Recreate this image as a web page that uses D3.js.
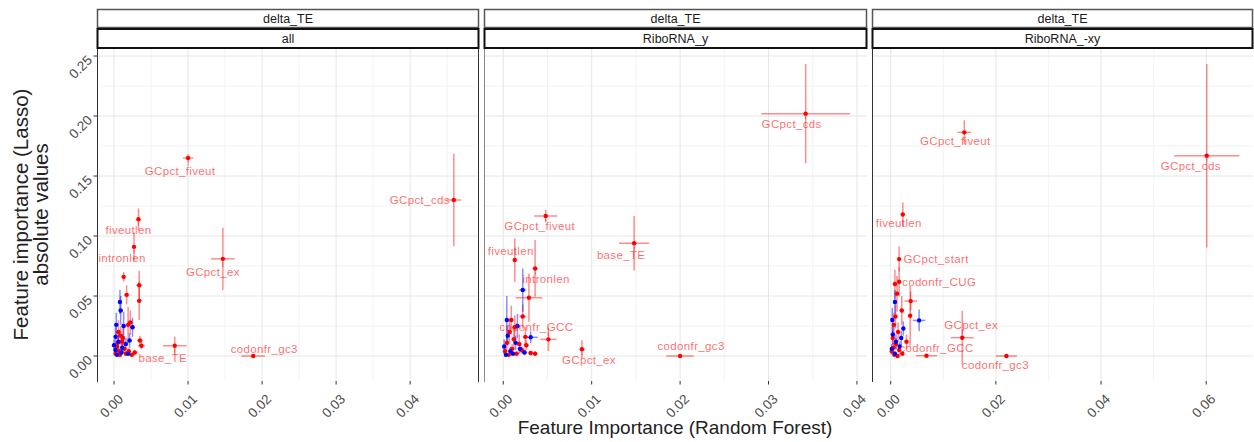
<!DOCTYPE html>
<html>
<head>
<meta charset="utf-8">
<script src="https://cdn.jsdelivr.net/npm/d3@7"></script>
<style>
body { margin: 0; background: #fff; }
text { font-family: "Liberation Sans", Arial, sans-serif; }
</style>
</head>
<body>
<svg id="chart" width="1254" height="442"></svg>
<script>
// facet strips
var outcome = "delta_TE";
var subsets = ["all", "RiboRNA_y", "RiboRNA_-xy"];

// axis ticks
var yTicks = [0, 0.05, 0.10, 0.15, 0.20, 0.25];
var xTicksAll = [0, 0.01, 0.02, 0.03, 0.04];
var xTicksRiboY = [0, 0.01, 0.02, 0.03, 0.04];
var xTicksRiboXY = [0, 0.02, 0.04, 0.06];

// [feature, rf importance, rf sd, |lasso coef|, lasso sd, sign]
var pointsAll = [
    ["", 0.0013, 0.0002, 0.066, 0.004, "pos"],
    ["", 0.0017, 0.0003, 0.051, 0.008, "pos"],
    ["", 0.0034, 0.0004, 0.059, 0.012, "pos"],
    ["", 0.0034, 0.0003, 0.046, 0.016, "pos"],
    ["", 0.0022, 0.0004, 0.028, 0.010, "pos"],
    ["", 0.0019, 0.0003, 0.026, 0.015, "pos"],
    ["", 0.0035, 0.0004, 0.013, 0.004, "pos"],
    ["", 0.0037, 0.0005, 0.0086, 0.003, "pos"],
    ["", 0.0006, 0.0003, 0.020, 0.010, "pos"],
    ["", 0.0009, 0.0003, 0.017, 0.008, "pos"],
    ["", 0.0011, 0.0003, 0.012, 0.006, "pos"],
    ["", 0.0004, 0.0002, 0.008, 0.005, "pos"],
    ["", 0.0014, 0.0004, 0.006, 0.004, "pos"],
    ["", 0.0007, 0.0002, 0.004, 0.003, "pos"],
    ["", 0.0002, 0.0002, 0.002, 0.002, "pos"],
    ["", 0.0016, 0.0003, 0.002, 0.002, "pos"],
    ["", 0.0024, 0.0004, 0.001, 0.001, "pos"],
    ["", 0.0012, 0.0003, 0.015, 0.012, "pos"],
    ["", 0.0005, 0.0002, 0.011, 0.007, "pos"],
    ["", 0.0020, 0.0003, 0.004, 0.003, "pos"],
    ["", 0.0028, 0.0004, 0.003, 0.002, "pos"],
    ["", 0.0008, 0.0002, 0.001, 0.001, "pos"],
    ["", 0.0009, 0.0003, 0.038, 0.012, "neg"],
    ["", 0.0008, 0.0002, 0.045, 0.010, "neg"],
    ["", 0.0003, 0.0002, 0.026, 0.010, "neg"],
    ["", 0.0025, 0.0003, 0.024, 0.008, "neg"],
    ["", 0.0013, 0.0003, 0.025, 0.012, "neg"],
    ["", 0.0002, 0.0002, 0.016, 0.008, "neg"],
    ["", 0.0006, 0.0002, 0.012, 0.006, "neg"],
    ["", 0.0016, 0.0003, 0.010, 0.005, "neg"],
    ["", 0.0002, 0.0001, 0.005, 0.004, "neg"],
    ["", 0.0010, 0.0002, 0.003, 0.003, "neg"],
    ["", 0.0004, 0.0002, 0.001, 0.001, "neg"],
    ["", 0.0019, 0.0003, 0.002, 0.002, "neg"],
    ["", 0.0011, 0.0002, 0.007, 0.004, "neg"],
    ["", 0.0000, 0.0001, 0.009, 0.005, "neg"],
    ["", 0.0021, 0.0003, 0.013, 0.006, "neg"],
    ["GCpct_fiveut", 0.0100, 0.0007, 0.165, 0.003, "pos"],
    ["fiveutlen", 0.0033, 0.0002, 0.114, 0.009, "pos"],
    ["intronlen", 0.0027, 0.0002, 0.091, 0.012, "pos"],
    ["GCpct_ex", 0.0147, 0.0016, 0.081, 0.026, "pos"],
    ["codonfr_gc3", 0.0188, 0.0016, 0.000, 0.001, "pos"],
    ["base_TE", 0.0082, 0.0016, 0.0086, 0.0076, "pos"],
    ["GCpct_cds", 0.0459, 0.0010, 0.130, 0.0386, "pos"]
];

var pointsRiboY = [
    ["", 0.0029, 0.0015, 0.0486, 0.020, "pos"],
    ["", 0.0022, 0.0004, 0.033, 0.010, "pos"],
    ["", 0.0025, 0.0003, 0.016, 0.008, "pos"],
    ["", 0.0036, 0.0003, 0.002, 0.002, "pos"],
    ["", 0.0031, 0.0003, 0.0025, 0.002, "pos"],
    ["", 0.0009, 0.0003, 0.030, 0.012, "pos"],
    ["", 0.0007, 0.0002, 0.020, 0.010, "pos"],
    ["", 0.0012, 0.0003, 0.014, 0.008, "pos"],
    ["", 0.0004, 0.0002, 0.011, 0.006, "pos"],
    ["", 0.0018, 0.0003, 0.010, 0.008, "pos"],
    ["", 0.0002, 0.0002, 0.004, 0.003, "pos"],
    ["", 0.0010, 0.0003, 0.006, 0.004, "pos"],
    ["", 0.0015, 0.0003, 0.002, 0.002, "pos"],
    ["", 0.0006, 0.0002, 0.001, 0.001, "pos"],
    ["", 0.0021, 0.0004, 0.005, 0.003, "pos"],
    ["", 0.0026, 0.0003, 0.009, 0.004, "pos"],
    ["", 0.0013, 0.0003, 0.024, 0.010, "pos"],
    ["", 0.0022, 0.0004, 0.055, 0.018, "neg"],
    ["", 0.0004, 0.0002, 0.030, 0.020, "neg"],
    ["", 0.0016, 0.0003, 0.025, 0.010, "neg"],
    ["", 0.0031, 0.0008, 0.0156, 0.005, "neg"],
    ["", 0.0001, 0.0002, 0.008, 0.006, "neg"],
    ["", 0.0008, 0.0002, 0.004, 0.004, "neg"],
    ["", 0.0014, 0.0002, 0.011, 0.006, "neg"],
    ["", 0.0005, 0.0002, 0.017, 0.008, "neg"],
    ["", 0.0011, 0.0002, 0.002, 0.002, "neg"],
    ["", 0.0019, 0.0003, 0.006, 0.003, "neg"],
    ["", 0.0003, 0.0001, 0.001, 0.001, "neg"],
    ["", 0.0024, 0.0003, 0.003, 0.002, "neg"],
    ["GCpct_cds", 0.0342, 0.0050, 0.202, 0.0414, "pos"],
    ["GCpct_fiveut", 0.0048, 0.0013, 0.1167, 0.0051, "pos"],
    ["base_TE", 0.0148, 0.0017, 0.094, 0.0228, "pos"],
    ["fiveutlen", 0.0013, 0.0002, 0.080, 0.018, "pos"],
    ["intronlen", 0.0036, 0.0003, 0.073, 0.0236, "pos"],
    ["codonfr_GCC", 0.0051, 0.0009, 0.0139, 0.0097, "pos"],
    ["GCpct_ex", 0.0089, 0.0003, 0.0056, 0.0076, "pos"],
    ["codonfr_gc3", 0.0200, 0.00155, 0.000, 0.001, "pos"]
];

var pointsRiboXY = [
    ["", 0.0008, 0.0003, 0.060, 0.012, "pos"],
    ["", 0.0012, 0.0003, 0.052, 0.015, "pos"],
    ["", 0.0021, 0.0004, 0.038, 0.012, "pos"],
    ["", 0.0038, 0.0012, 0.0458, 0.008, "pos"],
    ["", 0.0037, 0.0004, 0.0336, 0.025, "pos"],
    ["", 0.0009, 0.0003, 0.033, 0.010, "pos"],
    ["", 0.0006, 0.0002, 0.026, 0.010, "pos"],
    ["", 0.0014, 0.0003, 0.020, 0.008, "pos"],
    ["", 0.0030, 0.0004, 0.012, 0.006, "pos"],
    ["", 0.0004, 0.0002, 0.015, 0.006, "pos"],
    ["", 0.0010, 0.0003, 0.010, 0.005, "pos"],
    ["", 0.0002, 0.0002, 0.004, 0.003, "pos"],
    ["", 0.0016, 0.0004, 0.005, 0.003, "pos"],
    ["", 0.0007, 0.0003, 0.001, 0.001, "pos"],
    ["", 0.0022, 0.0004, 0.002, 0.002, "pos"],
    ["", 0.0005, 0.0002, 0.007, 0.004, "pos"],
    ["", 0.0013, 0.0003, 0.000, 0.001, "pos"],
    ["", 0.0054, 0.0012, 0.0297, 0.009, "neg"],
    ["", 0.0008, 0.0002, 0.045, 0.010, "neg"],
    ["", 0.0024, 0.0003, 0.023, 0.006, "neg"],
    ["", 0.0004, 0.0002, 0.018, 0.008, "neg"],
    ["", 0.0010, 0.0002, 0.012, 0.006, "neg"],
    ["", 0.0002, 0.0002, 0.006, 0.004, "neg"],
    ["", 0.0017, 0.0003, 0.008, 0.004, "neg"],
    ["", 0.0008, 0.0002, 0.002, 0.002, "neg"],
    ["", 0.0020, 0.0003, 0.015, 0.006, "neg"],
    ["", 0.0003, 0.0002, 0.030, 0.010, "neg"],
    ["GCpct_fiveut", 0.0140, 0.0013, 0.1864, 0.0101, "pos"],
    ["GCpct_cds", 0.0601, 0.0062, 0.1669, 0.0764, "pos"],
    ["fiveutlen", 0.0023, 0.0002, 0.118, 0.010, "pos"],
    ["GCpct_start", 0.0016, 0.0002, 0.0808, 0.0104, "pos"],
    ["codonfr_CUG", 0.0016, 0.0002, 0.0619, 0.012, "pos"],
    ["GCpct_ex", 0.0136, 0.0022, 0.0153, 0.0225, "pos"],
    ["codonfr_GCC", 0.0068, 0.0020, 0.0003, 0.001, "pos"],
    ["codonfr_gc3", 0.0220, 0.0020, 0.000, 0.001, "pos"]
];

// label offsets in px (repel placement)
var labelNudge = {
    "all": {
        "GCpct_fiveut": [-8, 13], "fiveutlen": [-10, 11], "intronlen": [-12, 11],
        "GCpct_ex": [-10, 13], "codonfr_gc3": [11, -7], "base_TE": [-12, 12],
        "GCpct_cds": [-34, 0]
    },
    "RiboRNA_y": {
        "GCpct_cds": [-14, 10], "GCpct_fiveut": [-6, 10], "base_TE": [-13, 12],
        "fiveutlen": [-4, -9], "intronlen": [11, 11], "codonfr_GCC": [-12, -12],
        "GCpct_ex": [7, 11], "codonfr_gc3": [11, -10]
    },
    "RiboRNA_-xy": {
        "GCpct_fiveut": [-9, 9], "GCpct_cds": [-16, 10], "fiveutlen": [-4, 9],
        "GCpct_start": [37, 0], "codonfr_CUG": [40, 0], "GCpct_ex": [9, -13],
        "codonfr_GCC": [10, -8], "codonfr_gc3": [-11, 9]
    }
};

var signColor = { pos: "#ff0000", neg: "#0000ff" };

var panels = [
    { name: subsets[0], data: pointsAll, xDomain: [-0.0023, 0.0493], xTicks: xTicksAll, left: 97, right: 479 },
    { name: subsets[1], data: pointsRiboY, xDomain: [-0.00218, 0.04114], xTicks: xTicksRiboY, left: 484, right: 867 },
    { name: subsets[2], data: pointsRiboXY, xDomain: [-0.00356, 0.0689], xTicks: xTicksRiboXY, left: 872, right: 1253 }
];

var plotTop = 48, plotBottom = 381;
var svg = d3.select("#chart");
var y = d3.scaleLinear().domain([-0.0208, 0.2567]).range([plotBottom, plotTop]);
var fmt = d3.format(".2f");

panels.forEach(function(p, pi) {
    var x = d3.scaleLinear().domain(p.xDomain).range([p.left, p.right]);
    var g = svg.append("g");

    // minor grid
    var step = p.xTicks[1] - p.xTicks[0];
    var xMinor = p.xTicks.map(function(v) { return v + step / 2; })
        .filter(function(v) { return v < p.xDomain[1]; });
    var yMinor = yTicks.map(function(v) { return v + 0.025; }).filter(function(v) { return v < 0.2567; });
    g.selectAll(".xminor").data(xMinor).enter().append("line")
        .attr("x1", function(d) { return x(d); }).attr("x2", function(d) { return x(d); })
        .attr("y1", plotTop).attr("y2", plotBottom)
        .attr("stroke", "#f0f0f0").attr("stroke-width", 0.8);
    g.selectAll(".yminor").data(yMinor).enter().append("line")
        .attr("x1", p.left).attr("x2", p.right)
        .attr("y1", function(d) { return y(d); }).attr("y2", function(d) { return y(d); })
        .attr("stroke", "#f0f0f0").attr("stroke-width", 0.8);
    // major grid
    g.selectAll(".xmajor").data(p.xTicks).enter().append("line")
        .attr("x1", function(d) { return x(d); }).attr("x2", function(d) { return x(d); })
        .attr("y1", plotTop).attr("y2", plotBottom)
        .attr("stroke", "#e6e6e6").attr("stroke-width", 1);
    g.selectAll(".ymajor").data(yTicks).enter().append("line")
        .attr("x1", p.left).attr("x2", p.right)
        .attr("y1", function(d) { return y(d); }).attr("y2", function(d) { return y(d); })
        .attr("stroke", "#e6e6e6").attr("stroke-width", 1);

    // strips
    svg.append("rect").attr("x", p.left + 0.5).attr("y", 9.5).attr("width", p.right - p.left - 1).attr("height", 18)
        .attr("fill", "#fff").attr("stroke", "#555").attr("stroke-width", 1.5);
    svg.append("rect").attr("x", p.left + 0.5).attr("y", 29).attr("width", p.right - p.left - 1).attr("height", 19)
        .attr("fill", "#fff").attr("stroke", "#111").attr("stroke-width", 2);
    svg.append("text").attr("x", (p.left + p.right) / 2).attr("y", 19).attr("dy", "0.35em")
        .attr("text-anchor", "middle").attr("font-size", 12.5).attr("fill", "#1a1a1a").text(outcome);
    svg.append("text").attr("x", (p.left + p.right) / 2).attr("y", 38.5).attr("dy", "0.35em")
        .attr("text-anchor", "middle").attr("font-size", 12.5).attr("fill", "#1a1a1a").text(p.name);

    // x ticks + labels
    g.selectAll(".xtick").data(p.xTicks).enter().append("line")
        .attr("x1", function(d) { return x(d); }).attr("x2", function(d) { return x(d); })
        .attr("y1", plotBottom).attr("y2", plotBottom + 3.5)
        .attr("stroke", "#333").attr("stroke-width", 1);
    g.selectAll(".xlab").data(p.xTicks).enter().append("text")
        .attr("transform", function(d) { return "translate(" + (x(d) + 10) + "," + (plotBottom + 19) + ") rotate(-45)"; })
        .attr("text-anchor", "end").attr("font-size", 13.5).attr("fill", "#4d4d4d")
        .text(function(d) { return fmt(d); });

    // y axis on first panel
    if (pi === 0) {
        g.selectAll(".ytick").data(yTicks).enter().append("line")
            .attr("x1", p.left - 3.5).attr("x2", p.left)
            .attr("y1", function(d) { return y(d); }).attr("y2", function(d) { return y(d); })
            .attr("stroke", "#333").attr("stroke-width", 1);
        g.selectAll(".ylab").data(yTicks).enter().append("text")
            .attr("transform", function(d) { return "translate(" + (p.left - 4) + "," + (y(d) + 5) + ") rotate(-45)"; })
            .attr("text-anchor", "end").attr("font-size", 13.5).attr("fill", "#4d4d4d")
            .text(function(d) { return fmt(d); });
    }
    // left axis line
    g.append("line").attr("x1", p.left + 0.5).attr("x2", p.left + 0.5).attr("y1", plotTop).attr("y2", plotBottom + 1)
        .attr("stroke", pi === 1 ? "#888" : "#333").attr("stroke-width", 1);
    if (pi === 0) {
        g.append("line").attr("x1", p.right - 0.5).attr("x2", p.right - 0.5).attr("y1", plotTop).attr("y2", plotBottom + 1)
            .attr("stroke", "#333").attr("stroke-width", 1);
    }

    // error bars
    var rows = p.data.slice().sort(function(a, b) { return (a[0] ? 1 : 0) - (b[0] ? 1 : 0); });
    var bars = g.append("g").attr("stroke-width", 1.5).attr("stroke-opacity", 0.45);
    bars.selectAll(".vbar").data(rows).enter().append("line")
        .attr("x1", function(d) { return x(d[1]); }).attr("x2", function(d) { return x(d[1]); })
        .attr("y1", function(d) { return y(d[3] - d[4]); }).attr("y2", function(d) { return y(d[3] + d[4]); })
        .attr("stroke", function(d) { return signColor[d[5]]; });
    bars.selectAll(".hbar").data(rows).enter().append("line")
        .attr("x1", function(d) { return x(d[1] - d[2]); }).attr("x2", function(d) { return x(d[1] + d[2]); })
        .attr("y1", function(d) { return y(d[3]); }).attr("y2", function(d) { return y(d[3]); })
        .attr("stroke", function(d) { return signColor[d[5]]; });

    // points
    g.selectAll(".pt").data(rows).enter().append("circle")
        .attr("cx", function(d) { return x(d[1]); })
        .attr("cy", function(d) { return y(d[3]); })
        .attr("r", 2.2)
        .attr("fill", function(d) { return signColor[d[5]]; });

    // labels with repel-style segments
    var nudge = labelNudge[p.name];
    var segs = g.append("g");
    var labels = g.selectAll(".lab").data(rows.filter(function(d) { return d[0]; })).enter().append("text")
        .attr("x", function(d) { return x(d[1]) + nudge[d[0]][0]; })
        .attr("y", function(d) { return y(d[3]) + nudge[d[0]][1]; })
        .attr("dy", "0.35em")
        .attr("text-anchor", "middle")
        .attr("font-family", "Roboto, sans-serif")
        .attr("font-size", 11.5)
        .attr("letter-spacing", 0.35)
        .attr("fill", "#ff0000").attr("fill-opacity", 0.6)
        .text(function(d) { return d[0]; });
    labels.each(function(d) {
        var b = this.getBBox();
        var px = x(d[1]), py = y(d[3]);
        // nearest point on the label box to the data point
        var cx = Math.max(b.x, Math.min(px, b.x + b.width));
        var cy = Math.max(b.y + 1, Math.min(py, b.y + b.height - 1));
        var dist = Math.hypot(px - cx, py - cy);
        if (dist > 5) {
            var k = (dist - 3) / dist;
            segs.append("line")
                .attr("x1", cx).attr("y1", cy)
                .attr("x2", cx + (px - cx) * k).attr("y2", cy + (py - cy) * k)
                .attr("stroke", "#ff0000").attr("stroke-opacity", 0.6).attr("stroke-width", 0.8);
        }
    });
});

// axis titles
svg.append("text").attr("x", 675).attr("y", 434).attr("text-anchor", "middle")
    .attr("font-size", 19).attr("fill", "#222").text("Feature Importance (Random Forest)");
var yTitle = svg.append("text").attr("transform", "translate(31," + ((plotTop + plotBottom) / 2) + ") rotate(-90)")
    .attr("text-anchor", "middle").attr("font-size", 20.5).attr("fill", "#222");
yTitle.append("tspan").attr("x", 0).attr("dy", "-0.15em").text("Feature importance (Lasso)");
yTitle.append("tspan").attr("x", 0).attr("dy", "1.0em").text("absolute values");
</script>
</body>
</html>
